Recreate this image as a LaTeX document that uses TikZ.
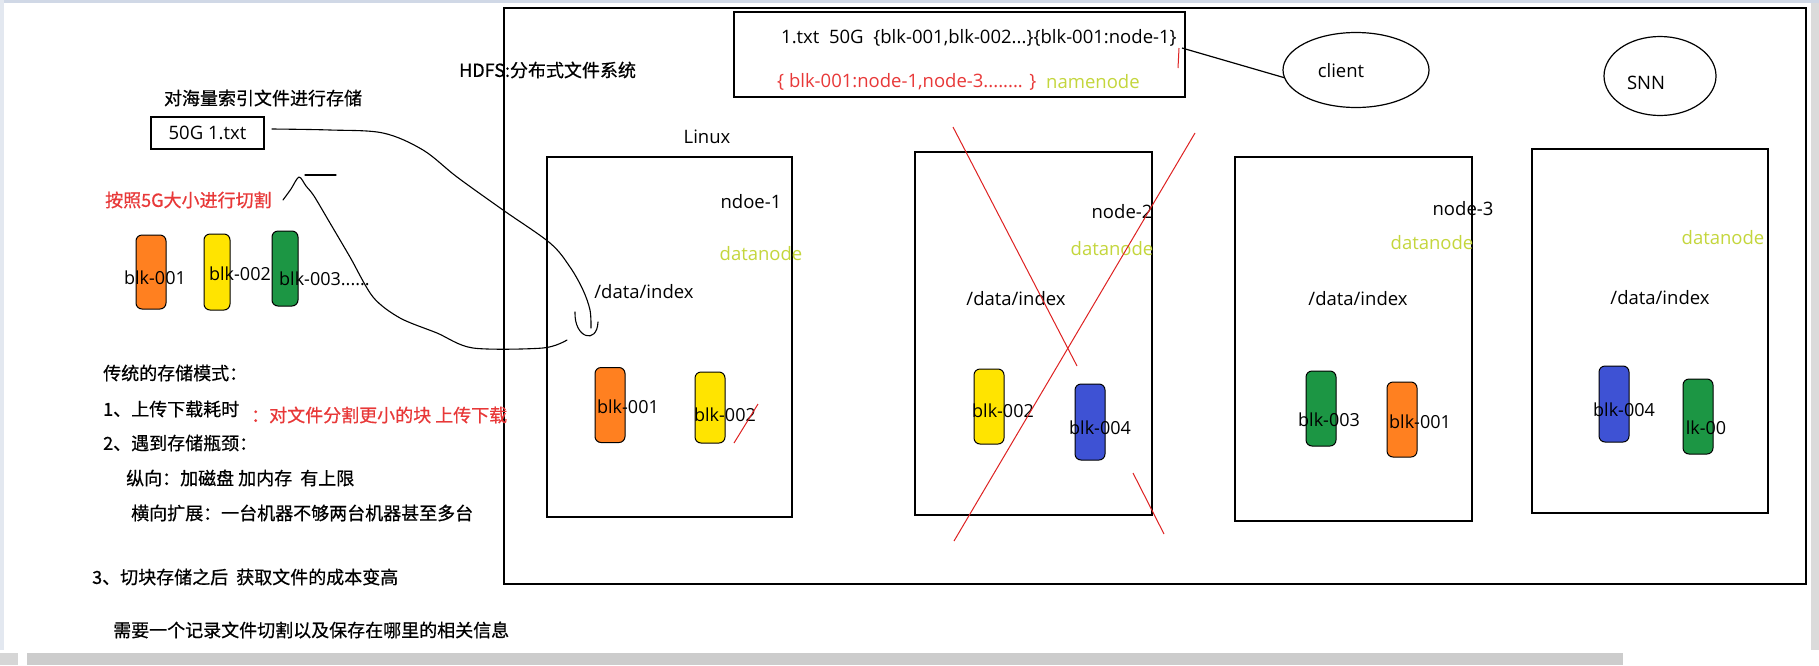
\documentclass[tikz,border=0pt]{standalone}
\usepackage{fontspec}
\setmainfont{Open Sans}
\newfontfamily\cjk[FakeBold=0.6]{Noto Sans CJK SC}
\usetikzlibrary{shapes.geometric}
\definecolor{borange}{RGB}{255,128,32}
\definecolor{byellow}{RGB}{255,228,0}
\definecolor{bgreen}{RGB}{28,150,68}
\definecolor{bblue}{RGB}{62,82,212}
\definecolor{redtxt}{RGB}{232,56,56}
\definecolor{dntxt}{RGB}{196,214,60}
\definecolor{redline}{RGB}{222,34,34}
\definecolor{topband}{RGB}{208,216,230}
\definecolor{barcol}{RGB}{204,204,204}
\begin{document}
\begin{tikzpicture}[x=1pt,y=-1pt,
  lbl/.style={inner sep=0pt, font=\fontsize{18.5}{20}\selectfont},
  cn/.style={inner sep=0pt, font=\cjk\fontsize{18}{20}\selectfont},
  dn/.style={lbl, text=dntxt},
  nbox/.style={draw, line width=1.6pt, inner sep=0pt},
  blk/.style={draw, line width=1pt, rounded corners=6pt, inner sep=0pt, minimum width=30pt, minimum height=75pt},
  blkt/.style={inner sep=0pt, font=\fontsize{18}{20}\selectfont},
  hand/.style={line width=1.1pt, line join=round, line cap=round},
  redl/.style={redline, line width=1pt}]
\useasboundingbox (0,0) rectangle (1819,665);
\fill[white] (0,0) rectangle (1819,665);
% screen chrome
\fill[topband] (0,0) rectangle (1819,3);
\fill[topband!60] (0,0) rectangle (4,650);
\fill[barcol!70] (1811,3) rectangle (1819,650);
\fill[barcol] (27,653) rectangle (1623,665);
\fill[barcol!80] (0,653) rectangle (18,665);

% big HDFS frame
\node[nbox, minimum width=1302pt, minimum height=576pt] (hdfs) at (1155,296) {};
\node[cn, anchor=west] (hdfst) at (459,70) {HDFS:分布式文件系统};

% namenode box
\node[nbox, minimum width=451pt, minimum height=85pt] (nn) at (959.5,54.5) {};
\node[lbl, anchor=west] (nn1) at (781,38) {1.txt\ \ 50G\ \ \{blk-001,blk-002...\}\{blk-001:node-1\}};
\node[lbl, anchor=west, text=redtxt] (nn2) at (777,82) {\{ blk-001:node-1,node-3........ \}};
\node[dn, anchor=west] (nn3) at (1046,82) {namenode};
\draw[redl] (1179,48) -- (1178,68);

% client and SNN
\node[draw, ellipse, line width=1.2pt, minimum width=146pt, minimum height=75pt] (client) at (1356,70) {};
\node[lbl] (clientt) at (1341,71) {client};
\node[draw, ellipse, line width=1.2pt, minimum width=112pt, minimum height=79pt] (snn) at (1660,76) {};
\node[lbl] (snnt) at (1646,83) {SNN};
\coordinate (nnc) at (1182,48);
\draw[line width=1.2pt] (nnc) -- (client.186);

% node-1
\node[lbl] (linux) at (707,137) {Linux};
\node[nbox, minimum width=245pt, minimum height=360pt] (n1) at (669.5,337) {};
\node[lbl] (n1t) at (751,202) {ndoe-1};
\node[dn] (n1d) at (761,254) {datanode};
\node[lbl] (n1p) at (644,292) {/data/index};
\node[blk, fill=borange] (n1b1) at (610,405) {};
\node[blkt] (n1b1t) at (628,407) {blk-001};
\node[blk, fill=byellow, minimum height=71pt] (n1b2) at (710,407.5) {};
\node[blkt] (n1b2t) at (725,415) {blk-002};
\draw[redl] (734,443) -- (758,404);

% node-2
\node[nbox, minimum width=237pt, minimum height=363pt] (n2) at (1033.5,333.5) {};
\node[lbl] (n2t) at (1122,212) {node-2};
\node[dn] (n2d) at (1112,249) {datanode};
\node[lbl] (n2p) at (1016,299) {/data/index};
\node[blk, fill=byellow] (n2b1) at (989,406.5) {};
\node[blkt] (n2b1t) at (1003,411) {blk-002};
\node[blk, fill=bblue, minimum height=76pt] (n2b2) at (1090,422) {};
\node[blkt] (n2b2t) at (1100,428) {blk-004};
\draw[redl] (953,127) -- (1077,366);
\draw[redl] (1195,133) -- (954,541);
\draw[redl] (1133,473) -- (1164,534);

% node-3
\node[nbox, minimum width=237pt, minimum height=364pt] (n3) at (1353.5,339) {};
\node[lbl] (n3t) at (1463,209) {node-3};
\node[dn] (n3d) at (1432,243) {datanode};
\node[lbl] (n3p) at (1358,299) {/data/index};
\node[blk, fill=bgreen] (n3b1) at (1321,408.5) {};
\node[blkt] (n3b1t) at (1329,420) {blk-003};
\node[blk, fill=borange] (n3b2) at (1402,419.5) {};
\node[blkt] (n3b2t) at (1420,422) {blk-001};

% node-4
\node[nbox, minimum width=236pt, minimum height=364pt] (n4) at (1650,331) {};
\node[dn] (n4d) at (1723,238) {datanode};
\node[lbl] (n4p) at (1660,298) {/data/index};
\node[blk, fill=bblue, minimum height=76pt] (n4b1) at (1614,404) {};
\node[blkt] (n4b1t) at (1624,410) {blk-004};
\node[blk, fill=bgreen] (n4b2) at (1698,416.5) {};
\node[blkt] (n4b2t) at (1706,428) {lk-00};

% left side
\node[cn] (title) at (263,98) {对海量索引文件进行存储};
\node[nbox, line width=1.4pt, minimum width=113pt, minimum height=32pt, font=\fontsize{18.5}{20}\selectfont] (file) at (207.5,133) {50G 1.txt};
\node[cn, anchor=west, text=redtxt] (cut) at (105,200) {按照5G大小进行切割};
\node[blk, fill=borange, minimum height=74pt] (lb1) at (151,272) {};
\node[blkt] (lb1t) at (155,278) {blk-001};
\node[blk, fill=byellow, minimum width=26pt, minimum height=76pt] (lb2) at (217,272) {};
\node[blkt] (lb2t) at (240,274) {blk-002};
\node[blk, fill=bgreen, minimum width=26pt, minimum height=75pt] (lb3) at (285,268.5) {};
\node[blkt, anchor=west] (lb3t) at (279,279) {blk-003......};

\node[cn, anchor=west] (t1) at (103,373) {传统的存储模式：};
\node[cn, anchor=west] (t2) at (103,409) {1、上传下载耗时};
\node[cn, anchor=west, text=redtxt] (t2r) at (251,415) {：对文件分割更小的块 上传下载};
\node[cn, anchor=west] (t3) at (103,443) {2、遇到存储瓶颈：};
\node[cn, anchor=west] (t4) at (126,478) {纵向：加磁盘 加内存\ \ 有上限};
\node[cn, anchor=west] (t5) at (131,513) {横向扩展：一台机器不够两台机器甚至多台};
\node[cn, anchor=west] (t6) at (92,577) {3、切块存储之后\ \ 获取文件的成本变高};
\node[cn, anchor=west] (t7) at (113,630) {需要一个记录文件切割以及保存在哪里的相关信息};

% hand-drawn curves
\coordinate (c1s) at (272,129);
\coordinate (c1e) at (591,328);
\draw[hand] plot[smooth, tension=0.55] coordinates {(c1s) (330,130) (383,133) (423,150) (457,177) (503,210) (550,243) (570,267) (583,290) (590,310) (c1e)};
\draw[hand] (575,312) .. controls (574,338) and (597,345) .. (598,322);
\coordinate (c2s) at (283,200);
\coordinate (c2e) at (567,340);
\draw[hand] plot[smooth, tension=0.5] coordinates {(c2s) (291,189) (299,177) (306,186) (314,196) (330,223) (350,257) (373,297) (400,318) (437,333) (473,348) (543,348) (c2e)};
\draw[hand] (305,175) -- (336,175);
\end{tikzpicture}
\end{document}
